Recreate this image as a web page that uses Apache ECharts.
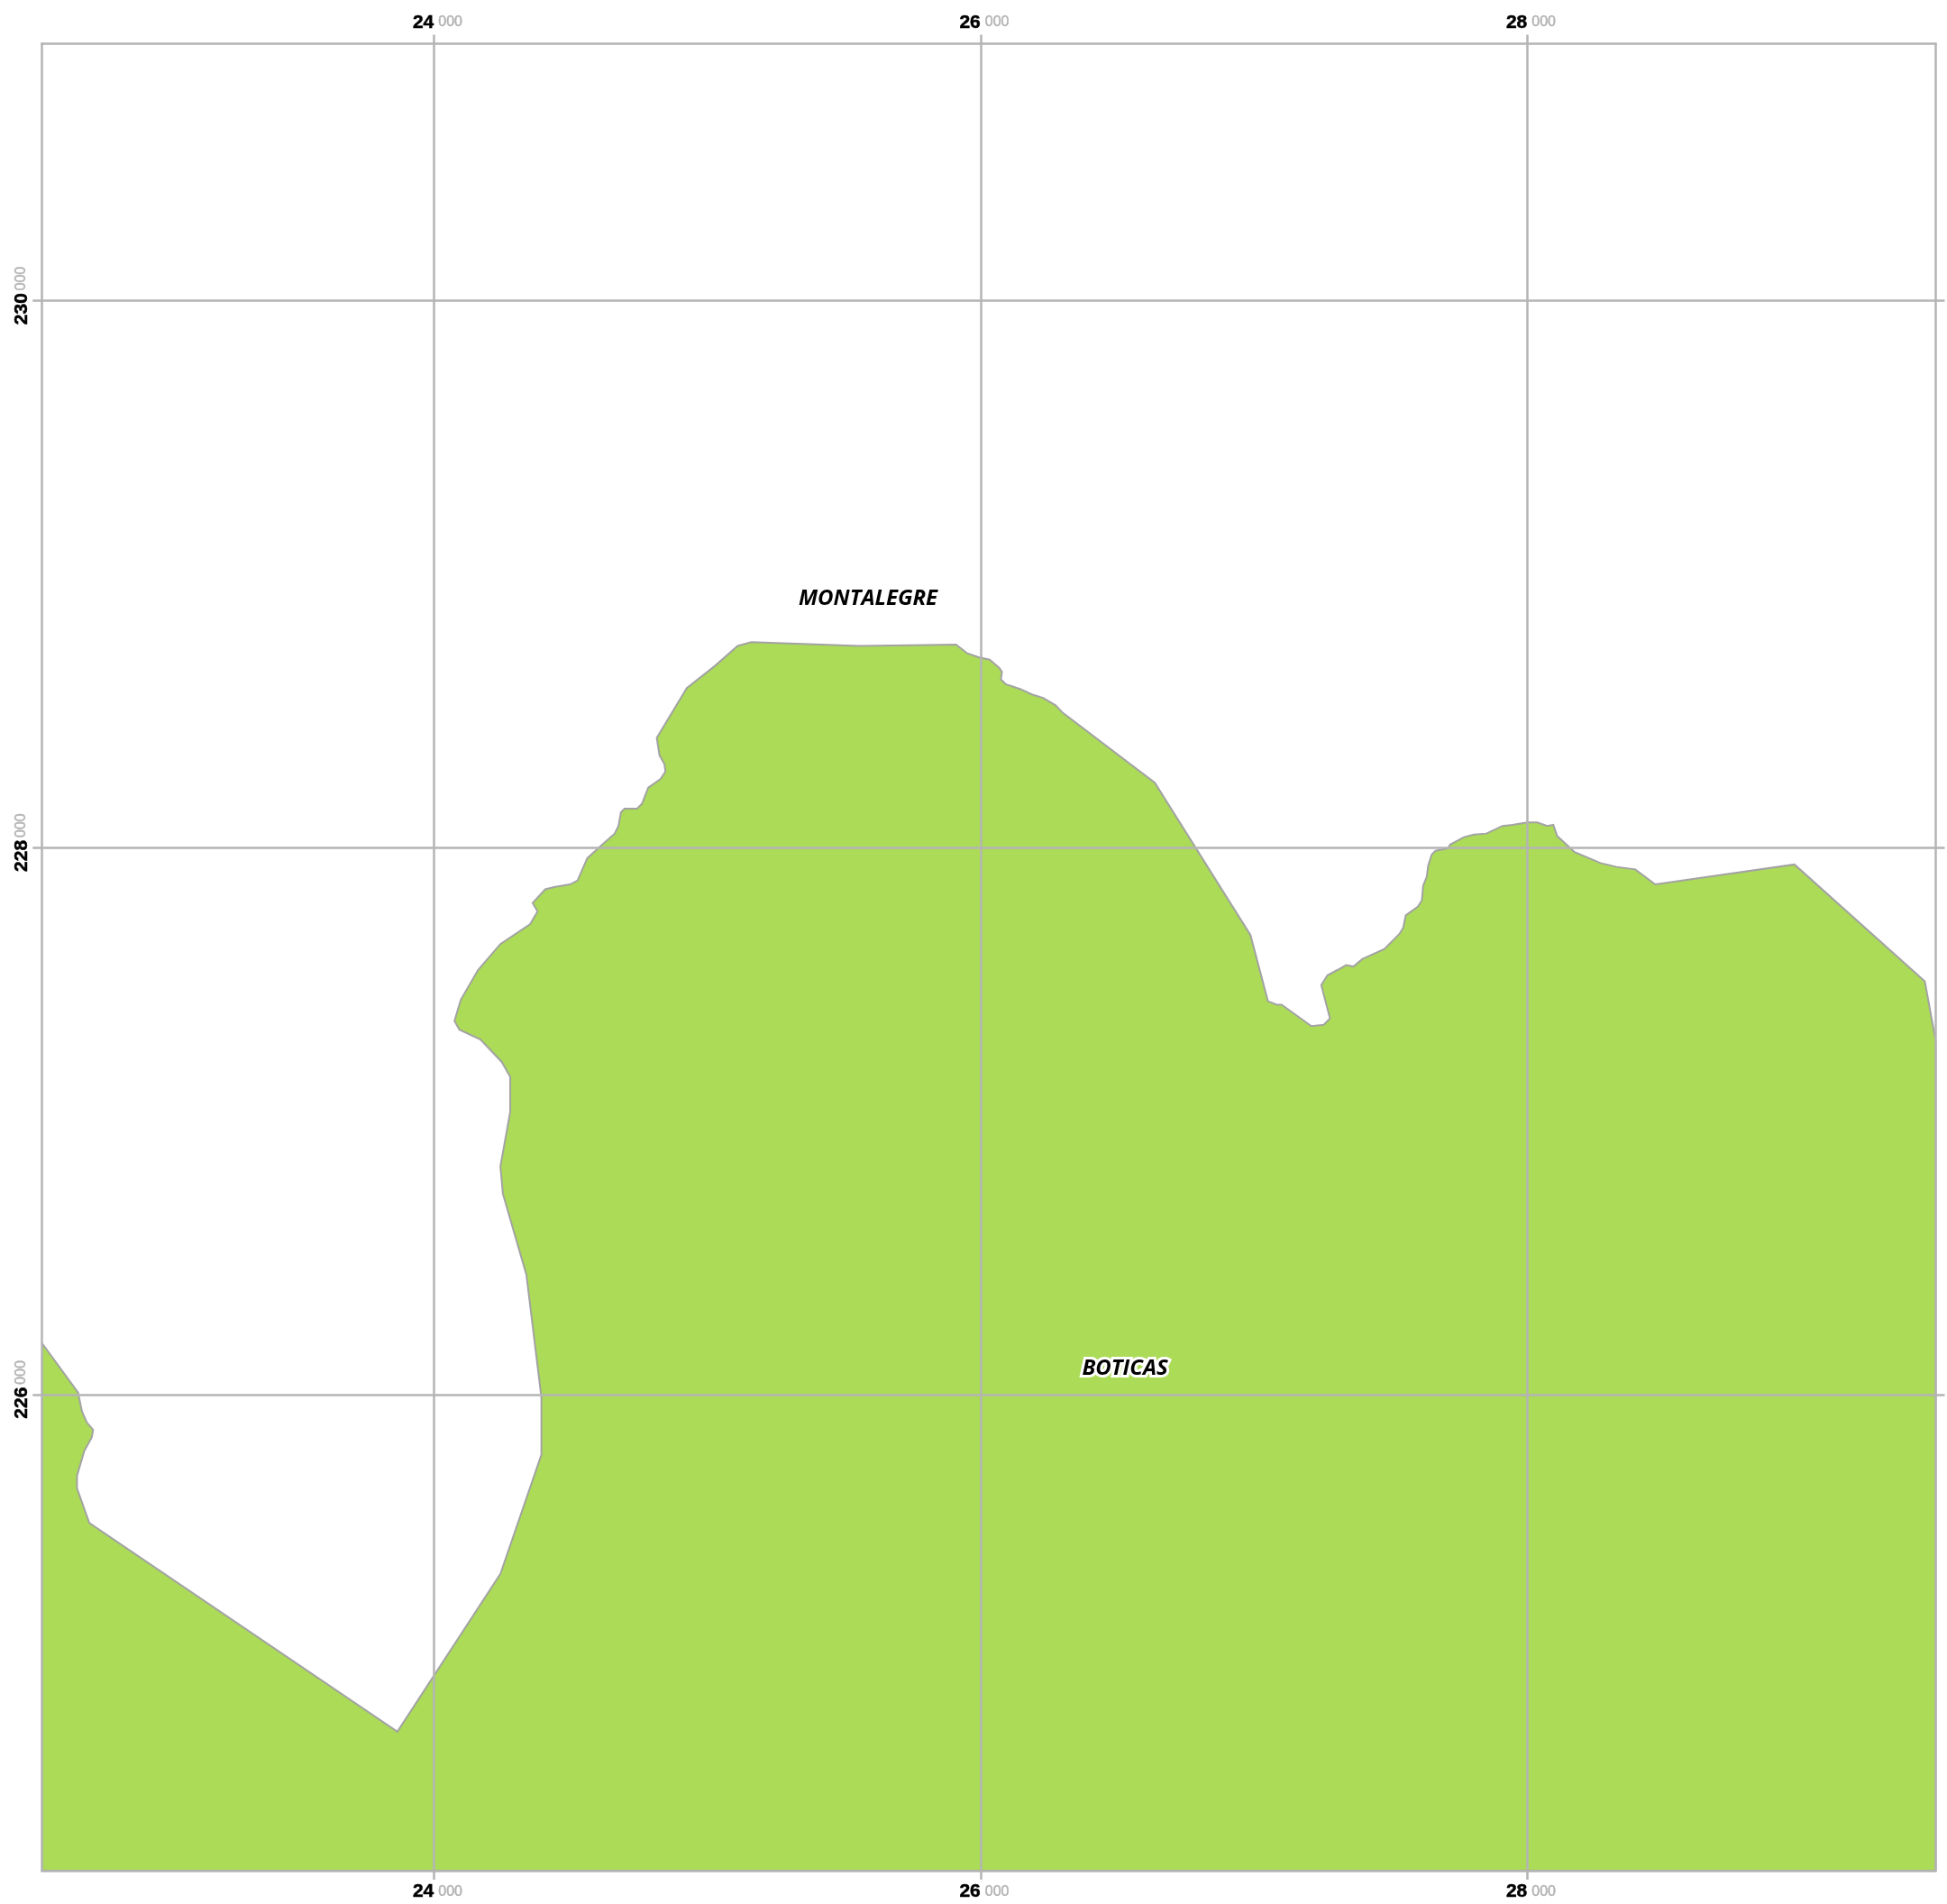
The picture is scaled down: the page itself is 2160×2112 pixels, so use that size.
<!DOCTYPE html>
<html><head><meta charset="utf-8">
<style>html,body{margin:0;padding:0;background:#fff}#c{width:2160px;height:2112px}</style>
<script src="https://cdn.jsdelivr.net/npm/echarts@6/dist/echarts.min.js"></script>
</head><body><div id="c"></div>
<script>
const xRange = [22565, 29494];
const yRange = [224259, 230939];
const xTicks = [24000, 26000, 28000];
const yTicks = [226000, 228000, 230000];
const placeNames = ['MONTALEGRE', 'BOTICAS'];
const placeX = [25588, 26528];
const placeY = [228908, 226096];
const boundaryX = [22565,22698,22712,22730,22753,22748,22721,22694,22694,22739,23866,24243,24393,24393,24338,24252,24243,24279,24279,24248,24170,24093,24075,24098,24161,24243,24352,24379,24361,24407,24443,24497,24525,24561,24606,24661,24675,24684,24697,24743,24761,24784,24829,24847,24843,24825,24815,24925,25029,25111,25161,25556,25910,25951,25992,26033,26069,26078,26074,26092,26146,26187,26228,26274,26301,26637,26987,27051,27083,27101,27210,27255,27278,27246,27269,27305,27337,27364,27396,27477,27532,27546,27555,27600,27614,27619,27632,27637,27650,27664,27709,27718,27768,27805,27850,27909,27945,28000,28036,28073,28095,28109,28173,28268,28327,28395,28468,28977,29454,29494,29494,22565];
const boundaryY = [226189,226007,225939,225898,225871,225843,225794,225703,225657,225530,224767,225344,225780,225989,226438,226734,226834,227034,227161,227216,227298,227334,227366,227443,227552,227647,227720,227766,227797,227847,227856,227865,227879,227961,228002,228051,228079,228129,228142,228142,228160,228219,228251,228278,228305,228337,228401,228583,228665,228737,228751,228737,228742,228710,228696,228687,228656,228642,228615,228597,228579,228560,228547,228520,228492,228237,227680,227438,227425,227425,227347,227352,227375,227497,227533,227552,227570,227565,227592,227629,227684,227707,227752,227784,227807,227861,227893,227933,227974,227988,227997,228011,228038,228047,228051,228079,228083,228092,228092,228079,228083,228042,227983,227943,227929,227920,227865,227938,227511,227293,224259,224259];

const GRID = '#b4b4b4';
const lineStyle = {color: GRID, width: 2.5};
const rich = {
  xp: {width: 8},
  yp: {width: 11},
  a: {fontFamily: 'Liberation Sans', fontWeight: 'bold', fontSize: 21, color: '#000', textBorderColor: '#000', textBorderWidth: 0.5},
  b: {fontFamily: 'Liberation Sans', fontSize: 16, color: '#b4b4b4', textBorderColor: '#b4b4b4', textBorderWidth: 0.5, padding: [0, 0, 0, 5]},
  c: {fontFamily: 'Liberation Sans', fontSize: 16, color: '#b4b4b4', textBorderColor: '#b4b4b4', textBorderWidth: 0.5, padding: [0, 0, 0, 3]}
};
const xFmt = v => '{xp|}{a|' + v / 1000 + '}{b|000}';
const yFmt = v => '{yp|}{a|' + v / 1000 + '}{c|000}';
function xAxis(position, main) {
  return {type: 'value', position, min: xRange[0], max: xRange[1], z: 5,
    axisLine: {show: true, onZero: false, lineStyle},
    axisTick: {show: true, length: 10, lineStyle, customValues: xTicks},
    splitLine: {show: main, lineStyle},
    axisLabel: {show: true, customValues: xTicks, margin: 13, formatter: xFmt, rich, hideOverlap: false, showMinLabel: true, showMaxLabel: true}};
}
function yAxis(position, main) {
  return {type: 'value', position, min: yRange[0], max: yRange[1], z: 5,
    axisLine: {show: true, onZero: false, lineStyle},
    axisTick: {show: true, length: 10, lineStyle, customValues: yTicks},
    splitLine: {show: main, lineStyle},
    axisLabel: {show: main, customValues: yTicks, margin: 12, rotate: 90, align: 'center', verticalAlign: 'bottom', formatter: yFmt, rich}};
}
const polygonData = boundaryX.map((x, i) => [x, boundaryY[i]]);
const chart = echarts.init(document.getElementById('c'), null, {renderer: 'canvas', width: 2160, height: 2112});
chart.setOption({
  animation: false,
  backgroundColor: '#fff',
  grid: {left: 46.3, top: 48.5, width: 2101.2, height: 2026.5, show: false},
  xAxis: [xAxis('bottom', true), xAxis('top', false)],
  yAxis: [yAxis('left', true), yAxis('right', false)],
  series: [
    {type: 'custom', coordinateSystem: 'cartesian2d', clip: true, z: 2, silent: true,
     data: polygonData, encode: {x: 0, y: 1},
     renderItem(params, api) {
       if (params.dataIndex !== 0) return null;
       const points = polygonData.map(p => api.coord(p));
       return {type: 'polygon', shape: {points},
         style: {fill: '#abdb57', stroke: '#a3a3a3', lineWidth: 2}};
     }},
    {type: 'scatter', symbolSize: 0, z: 10, silent: true, itemStyle: {opacity: 1},
     data: placeNames.map((n, i) => ({name: n, value: [placeX[i], placeY[i]]})),
     label: {show: true, position: 'inside', formatter: '{b}', fontFamily: 'Open Sans', fontWeight: 'bold',
       fontStyle: 'italic', fontSize: 24, color: '#000', opacity: 1, textBorderColor: '#fff', textBorderWidth: 6}}
  ]
});
</script></body></html>
